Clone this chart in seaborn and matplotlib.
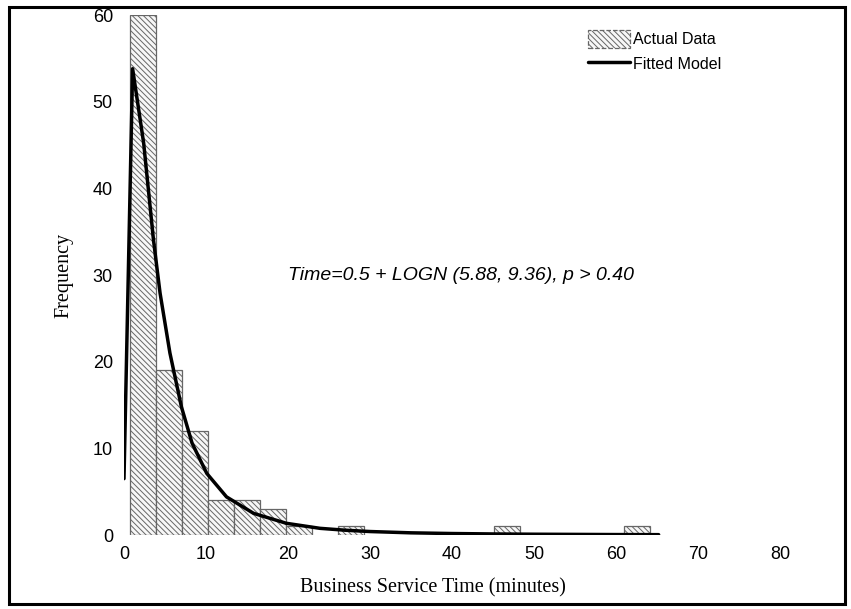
import numpy as np
import pandas as pd
import matplotlib
matplotlib.use("Agg")
import matplotlib.pyplot as plt
from matplotlib.patches import Patch, Rectangle
from matplotlib.lines import Line2D
import seaborn as sns

# ---- data ----
bin_edges = [0.7, 3.87, 7.04, 10.21, 13.38, 16.55, 19.72, 22.89, 26.06, 29.23,
             32.4, 35.57, 38.74, 41.91, 45.08, 48.25, 51.42, 54.59, 57.76, 60.93, 64.1]
bin_counts = [60, 19, 12, 4, 4, 3, 1, 0, 1, 0, 0, 0, 0, 0, 1, 0, 0, 0, 0, 1]

curve_x = [0.0, 1.05, 2.4, 3.6, 4.4, 5.6, 7.0, 8.3, 10.1, 12.5, 15.8, 19.8,
           23.9, 27.0, 30.0, 35.0, 40.0, 45.0, 50.0, 55.0, 60.0, 65.2]
curve_y = [6.5, 53.8, 45.2, 34.0, 27.9, 21.0, 14.8, 10.6, 7.1, 4.4, 2.5, 1.35,
           0.77, 0.55, 0.4, 0.25, 0.17, 0.12, 0.09, 0.07, 0.05, 0.04]

x_ticks = [0, 10, 20, 30, 40, 50, 60, 70, 80]
y_ticks = [0, 10, 20, 30, 40, 50, 60]

annotation = "Time=0.5 + LOGN (5.88, 9.36), p > 0.40"
x_label = "Business Service Time (minutes)"
y_label = "Frequency"
legend_labels = ["Actual Data", "Fitted Model"]

# ---- plotting ----
sns.set_style("white")
plt.rcParams["font.family"] = ["Liberation Sans", "DejaVu Sans"]
plt.rcParams["hatch.linewidth"] = 0.7
plt.rcParams["text.color"] = "black"
plt.rcParams["xtick.color"] = "black"
plt.rcParams["ytick.color"] = "black"
plt.rcParams["axes.labelcolor"] = "black"

fig = plt.figure(figsize=(8.51, 6.09), dpi=100)
ax = fig.add_axes([124 / 851, 1 - 535 / 609, (780 - 124) / 851, (535 - 15) / 609])

bar_face = "#f7f7f7"
bar_edge = "#666666"
bar_hatch = "\\\\\\\\\\\\"

centers = [(a + b) / 2 for a, b in zip(bin_edges[:-1], bin_edges[1:])]
df = pd.DataFrame({"x": centers, "w": bin_counts})
sns.histplot(data=df, x="x", weights="w", bins=bin_edges, ax=ax,
             facecolor=bar_face, edgecolor=bar_edge, hatch=bar_hatch,
             linewidth=0.9, alpha=1)
for p in ax.patches:
    if p.get_height() == 0:
        p.set_visible(False)

sns.lineplot(x=curve_x, y=curve_y, ax=ax, color="black", linewidth=2.5,
             sort=False, estimator=None)

ax.set_xlim(0, 80)
ax.set_ylim(0, 60)
ax.set_xticks(x_ticks)
ax.set_yticks(y_ticks)
ax.tick_params(length=0, labelsize=13, pad=8)
for s in ax.spines.values():
    s.set_visible(False)
ax.patch.set_alpha(0)

ax.set_xlabel(x_label, family="Liberation Serif", fontsize=14.5)
ax.set_ylabel(y_label, family="Liberation Serif", fontsize=14.5)
ax.xaxis.set_label_coords((433 - 124) / (780 - 124), -(578 - 535) / (535 - 15))
ax.yaxis.set_label_coords(-(124 - 73) / (780 - 124), 0.5)

ax.text(20, 30, annotation, fontsize=14, style="italic", ha="left", va="center")

handles = [Patch(facecolor=bar_face, edgecolor=bar_edge, hatch=bar_hatch,
                 linestyle="--", linewidth=0.9),
           Line2D([0], [0], color="black", linewidth=2.5)]
fig.legend(handles, legend_labels, loc="upper left",
           bbox_to_anchor=(582 / 851, 1 - 24 / 609), frameon=False,
           fontsize=11.5, handlelength=2.6, handleheight=1.3,
           handletextpad=0.2, labelspacing=0.45, borderaxespad=0)

fig.patches.append(Rectangle((9 / 851, 1 - 604 / 609), (845 - 9) / 851, (604 - 7) / 609,
                             transform=fig.transFigure, fill=False,
                             edgecolor="black", linewidth=2.2, zorder=10))

fig.savefig("out.png", dpi=100)
